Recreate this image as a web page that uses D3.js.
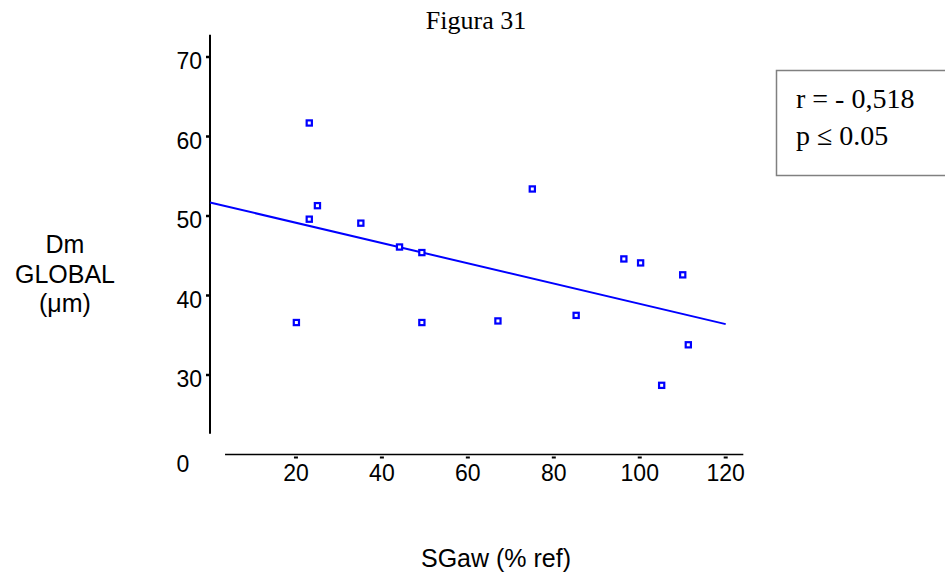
<!DOCTYPE html>
<html>
<head>
<meta charset="utf-8">
<script src="https://cdn.jsdelivr.net/npm/d3@7"></script>
<style>
  html, body { margin: 0; padding: 0; background: #fff; }
  svg { display: block; }
</style>
</head>
<body>
<svg id="chart" width="945" height="578"></svg>
<script>
// ---- data ----
const sgaw = [23.1, 25.0, 23.1, 35.1, 44.1, 49.3, 20.1, 49.3, 75.0, 96.3, 100.2, 110.0, 67.0, 85.2, 111.3, 105.1];
const dm   = [61.7, 51.3, 49.6, 49.1, 46.1, 45.4, 36.6, 36.6, 53.4, 44.6, 44.1, 42.6, 36.8, 37.5, 33.8, 28.7];
const fitX = [0, 120];
const fitY = [51.7, 36.4];
const xTicks = [20, 40, 60, 80, 100, 120];
const yTicks = [30, 40, 50, 60, 70];
const xAxisExtent = [3.5, 124.1];
const yAxisExtent = [22.6, 72.8];
const xAxisAt = 20;   // y value where the x axis is drawn
const yAxisAt = 0;    // x value where the y axis is drawn
const title = "Figura 31";
const xTitle = "SGaw (% ref)";
const yTitleLines = ["Dm", "GLOBAL", "(\u03bcm)"];
const statLines = ["r = - 0,518", "p \u2264 0.05"];
const originLabel = "0";

// ---- scales ----
const svg = d3.select("#chart");
const x = d3.scaleLinear().domain([0, 120]).range([210, 725.7]);
const y = d3.scaleLinear().domain([30, 70]).range([375, 57]);
const blue = "#0000ff";
const sans = "'Liberation Sans', Arial, sans-serif";
const serif = "'Liberation Serif', 'Times New Roman', serif";

// title
svg.append("text").attr("x", 476).attr("y", 29)
  .attr("text-anchor", "middle").attr("font-family", serif).attr("font-size", 26)
  .attr("fill", "#000").text(title);

// y axis
const yAxisG = svg.append("g");
yAxisG.append("line")
  .attr("x1", x(yAxisAt)).attr("x2", x(yAxisAt))
  .attr("y1", y(yAxisExtent[0])).attr("y2", y(yAxisExtent[1]))
  .attr("stroke", "#000").attr("stroke-width", 2);
yAxisG.selectAll("line.tick").data(yTicks).join("line")
  .attr("class", "tick")
  .attr("x1", x(yAxisAt) - 4).attr("x2", x(yAxisAt))
  .attr("y1", d => y(d)).attr("y2", d => y(d))
  .attr("stroke", "#000").attr("stroke-width", 2.5);
yAxisG.selectAll("text").data(yTicks).join("text")
  .attr("x", x(yAxisAt) - 8).attr("y", d => y(d) + 12)
  .attr("text-anchor", "end").attr("font-family", sans).attr("font-size", 23)
  .attr("fill", "#000").text(d => d);

// x axis
const xAxisG = svg.append("g");
xAxisG.append("line")
  .attr("x1", x(xAxisExtent[0])).attr("x2", x(xAxisExtent[1]))
  .attr("y1", y(xAxisAt)).attr("y2", y(xAxisAt))
  .attr("stroke", "#000").attr("stroke-width", 1.5);
xAxisG.selectAll("line.tick").data(xTicks).join("line")
  .attr("class", "tick")
  .attr("x1", d => x(d) - 2).attr("x2", d => x(d) + 2)
  .attr("y1", y(xAxisAt) + 3).attr("y2", y(xAxisAt) + 3)
  .attr("stroke", "#000").attr("stroke-width", 2);
xAxisG.selectAll("text").data(xTicks).join("text")
  .attr("x", d => x(d)).attr("y", y(xAxisAt) + 26)
  .attr("text-anchor", "middle").attr("font-family", sans).attr("font-size", 23)
  .attr("fill", "#000").text(d => d);

// origin label
svg.append("text").attr("x", x(yAxisAt) - 27).attr("y", y(xAxisAt) + 17)
  .attr("text-anchor", "middle").attr("font-family", sans).attr("font-size", 23)
  .attr("fill", "#000").text(originLabel);

// axis titles
svg.append("text").attr("x", 496).attr("y", 567)
  .attr("text-anchor", "middle").attr("font-family", sans).attr("font-size", 25)
  .attr("fill", "#000").text(xTitle);
svg.append("g").selectAll("text").data(yTitleLines).join("text")
  .attr("x", 65).attr("y", (d, i) => 253 + i * 29.5)
  .attr("text-anchor", "middle").attr("font-family", sans).attr("font-size", 25)
  .attr("fill", "#000").text(d => d);

// regression line
const line = d3.line().x(d => x(d[0])).y(d => y(d[1]));
svg.append("path").datum(fitX.map((v, i) => [v, fitY[i]]))
  .attr("d", line).attr("fill", "none").attr("stroke", blue).attr("stroke-width", 2);

// points
svg.append("g").selectAll("rect").data(sgaw.map((v, i) => [v, dm[i]])).join("rect")
  .attr("x", d => x(d[0]) - 2.6).attr("y", d => y(d[1]) - 2.6)
  .attr("width", 5.2).attr("height", 5.2)
  .attr("fill", "#fff").attr("stroke", blue).attr("stroke-width", 2.2);

// stats box
svg.append("rect").attr("x", 776.5).attr("y", 70.5).attr("width", 200).attr("height", 105)
  .attr("fill", "#fff").attr("stroke", "#808080").attr("stroke-width", 1.5);
svg.append("g").selectAll("text").data(statLines).join("text")
  .attr("x", 796).attr("y", (d, i) => 108 + i * 37)
  .attr("font-family", serif).attr("font-size", 28)
  .attr("fill", "#000").text(d => d);
</script>
</body>
</html>
